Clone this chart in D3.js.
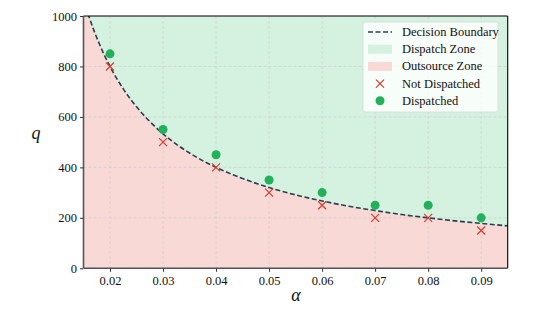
<!DOCTYPE html>
<html>
<head>
<meta charset="utf-8">
<style type="text/css">
html, body{
	padding: 0;
	margin: 0;
	background: white;
}
svg text{
	font-family: "Liberation Serif", "Times New Roman", Times, "DejaVu Serif", serif;
	fill: #111;
}
</style>
</head>
<body>
<svg width=554 height=312></svg>
<script src="https://cdn.jsdelivr.net/npm/d3@7/dist/d3.min.js"></script>
<script type="text/javascript">
// decision boundary
var boundaryAlpha = [0.015, 0.016, 0.017, 0.018, 0.019, 0.02, 0.0225, 0.025, 0.0275, 0.03, 0.035, 0.04, 0.045, 0.05, 0.055, 0.06, 0.065, 0.07, 0.075, 0.08, 0.085, 0.09, 0.095]
var boundaryQ = [1067, 1000, 941, 889, 842, 800, 711, 640, 582, 533, 457, 400, 356, 320, 291, 267, 246, 229, 213, 200, 188, 178, 168]

var dispAlpha = [0.02, 0.03, 0.04, 0.05, 0.06, 0.07, 0.08, 0.09]
var dispQ = [850, 550, 450, 350, 300, 250, 250, 200]
var notAlpha = [0.02, 0.03, 0.04, 0.05, 0.06, 0.07, 0.08, 0.09]
var notQ = [800, 500, 400, 300, 250, 200, 200, 150]

var xTicks = [0.02, 0.03, 0.04, 0.05, 0.06, 0.07, 0.08, 0.09]
var yTicks = [0, 200, 400, 600, 800, 1000]

var legendLabels = ['Decision Boundary', 'Dispatch Zone', 'Outsource Zone', 'Not Dispatched', 'Dispatched']

var svg = d3.select('svg')
var L = 83.5, R = 507.7, T = 16, B = 268.3
var serif = '"Liberation Serif", "Times New Roman", Times, "DejaVu Serif", serif'

var x = d3.scaleLinear().domain([0.015, 0.095]).range([L, R])
var y = d3.scaleLinear().domain([0, 1000]).range([B, T])

var boundary = boundaryAlpha.map((a,i)=>({a:a, q:boundaryQ[i]}))

svg.append('clipPath').attr('id','plot')
	.append('rect').attr('x',L).attr('y',T).attr('width',R-L).attr('height',B-T)

var g = svg.append('g').attr('clip-path','url(#plot)')

g.append('rect').attr('x',L).attr('y',T).attr('width',R-L).attr('height',B-T).style('fill','#f9d9d6')

g.append('path')
	.datum(boundary)
	.attr('d', d3.area().x(d=>x(d.a)).y0(y(1100)).y1(d=>y(d.q)).curve(d3.curveMonotoneX))
	.style('fill','#d5f2e0')

// grid
g.selectAll('.gx').data(xTicks).enter().append('line')
	.attr('x1',d=>x(d)).attr('x2',d=>x(d)).attr('y1',T).attr('y2',B)
	.style('stroke','#c8c8c8').style('stroke-dasharray','3,2').style('stroke-width',0.8).style('opacity',0.7)
g.selectAll('.gy').data(yTicks).enter().append('line')
	.attr('y1',d=>y(d)).attr('y2',d=>y(d)).attr('x1',L).attr('x2',R)
	.style('stroke','#c8c8c8').style('stroke-dasharray','3,2').style('stroke-width',0.8).style('opacity',0.7)

g.append('path')
	.datum(boundary)
	.attr('d', d3.line().x(d=>x(d.a)).y(d=>y(d.q)).curve(d3.curveMonotoneX))
	.style('fill','none').style('stroke','#2c3e50').style('stroke-width',1.6).style('stroke-dasharray','5,2.5')

var cross = 4
notAlpha.forEach((a,i)=>{
	var cx = x(a), cy = y(notQ[i])
	g.append('path')
		.attr('d', `M${cx-cross},${cy-cross}L${cx+cross},${cy+cross}M${cx-cross},${cy+cross}L${cx+cross},${cy-cross}`)
		.style('stroke','#d63b2f').style('stroke-width',1.2)
})

g.selectAll('circle.d').data(dispAlpha).enter().append('circle')
	.attr('cx',d=>x(d)).attr('cy',(d,i)=>y(dispQ[i])).attr('r',4.5)
	.style('fill','#22b05a')

// spines
svg.append('line').attr('x1',L).attr('x2',R).attr('y1',T).attr('y2',T).style('stroke','#000').style('stroke-width',1.1)
svg.append('line').attr('x1',R).attr('x2',R).attr('y1',T).attr('y2',B).style('stroke','#000').style('stroke-width',1.1)
svg.append('line').attr('x1',L).attr('x2',L).attr('y1',T).attr('y2',B).style('stroke','#555').style('stroke-width',1.6)
svg.append('line').attr('x1',L).attr('x2',R).attr('y1',B).attr('y2',B).style('stroke','#555').style('stroke-width',1.6)

// axes
var xAxis = svg.append('g').attr('transform',`translate(0,${B})`)
	.call(d3.axisBottom(x).tickValues(xTicks).tickFormat(d3.format('.2f')).tickSize(3.5).tickPadding(4))
var yAxis = svg.append('g').attr('transform',`translate(${L},0)`)
	.call(d3.axisLeft(y).tickValues(yTicks).tickFormat(d3.format('d')).tickSize(3.5).tickPadding(3))
;[xAxis, yAxis].forEach(a=>{
	a.attr('font-family', null)
	a.select('.domain').remove()
	a.selectAll('text').style('font-size','12.5px').style('font-family',serif).style('fill','#111')
	a.selectAll('line').style('stroke','#333')
})

svg.append('text').attr('x',296).attr('y',301).attr('text-anchor','middle')
	.style('font-family',serif).style('font-size','18px').style('font-style','italic').text('α')
svg.append('text').attr('x',36).attr('y',139).attr('text-anchor','middle')
	.style('font-family',serif).style('font-size','18px').style('font-style','italic').text('q')

// legend
var lg = svg.append('g').attr('transform','translate(363,22)')
lg.append('rect').attr('width',135).attr('height',90).attr('rx',2)
	.style('fill','#ffffff').style('fill-opacity',0.8).style('stroke','#d8d8d8').style('stroke-width',0.8)
var rowY = d=>10 + d*17.2
legendLabels.forEach((t,i)=>{
	lg.append('text').attr('x',39).attr('y',rowY(i)+4).style('font-family',serif).style('font-size','12.5px').text(t)
})
lg.append('line').attr('x1',5).attr('x2',29).attr('y1',rowY(0)).attr('y2',rowY(0))
	.style('stroke','#2c3e50').style('stroke-width',1.6).style('stroke-dasharray','5,2.5')
lg.append('rect').attr('x',5).attr('y',rowY(1)-4.5).attr('width',24).attr('height',9).style('fill','#d5f2e0')
lg.append('rect').attr('x',5).attr('y',rowY(2)-4.5).attr('width',24).attr('height',9).style('fill','#f9d9d6')
var lx = 17, ly = rowY(3)
lg.append('path')
	.attr('d', `M${lx-cross},${ly-cross}L${lx+cross},${ly+cross}M${lx-cross},${ly+cross}L${lx+cross},${ly-cross}`)
	.style('stroke','#d63b2f').style('stroke-width',1.2)
lg.append('circle').attr('cx',17).attr('cy',rowY(4)).attr('r',4.5).style('fill','#22b05a')
</script>
</body>
</html>
